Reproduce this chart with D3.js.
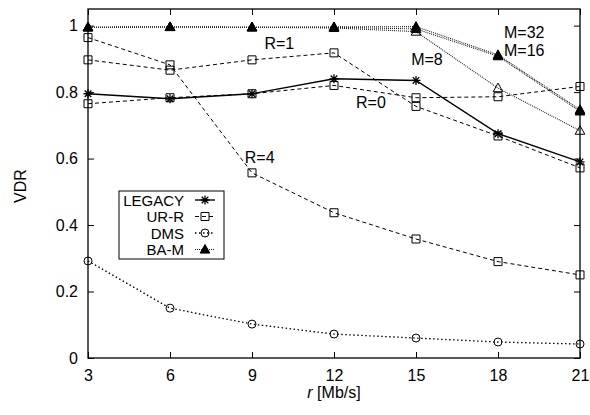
<!DOCTYPE html>
<html>
<head>
<meta charset="utf-8">
<script src="https://cdn.jsdelivr.net/npm/d3@7"></script>
<style>
  html, body { margin: 0; padding: 0; background: #fff; }
  svg { display: block; font-family: "Liberation Sans", Arial, Helvetica, sans-serif; }
</style>
</head>
<body>
<svg id="chart" width="590" height="415"></svg>
<script>
// ---- data ----
const xValues = [3, 6, 9, 12, 15, 18, 21];
const xTicks = [3, 6, 9, 12, 15, 18, 21];
const yTicks = [0, 0.2, 0.4, 0.6, 0.8, 1];
const yTickLabels = ["0", "0.2", "0.4", "0.6", "0.8", "1"];

const legacy = [0.795, 0.78, 0.795, 0.84, 0.835, 0.675, 0.59];
const urrR0  = [0.765, 0.783, 0.795, 0.82, 0.783, 0.786, 0.817];
const urrR1  = [0.897, 0.866, 0.897, 0.918, 0.757, 0.668, 0.572];
const urrR4  = [0.964, 0.882, 0.557, 0.437, 0.358, 0.29, 0.25];
const dms    = [0.292, 0.15, 0.102, 0.072, 0.06, 0.048, 0.042];
const bamM32 = [0.995, 0.996, 0.995, 0.996, 0.997, 0.912, 0.747];
const bamM16 = [0.995, 0.996, 0.995, 0.995, 0.99, 0.908, 0.742];
const bamM8  = [0.995, 0.996, 0.995, 0.993, 0.982, 0.812, 0.684];

const legendNames = ["LEGACY", "UR-R", "DMS", "BA-M"];
const annotations = [
  { text: "R=1", x: 10.0, y: 0.93, anchor: "middle" },
  { text: "R=0", x: 13.35, y: 0.752, anchor: "middle" },
  { text: "R=4", x: 9.28, y: 0.586, anchor: "middle" },
  { text: "M=8", x: 15.4, y: 0.882, anchor: "middle" },
  { text: "M=32", x: 18.22, y: 0.9613, anchor: "start" },
  { text: "M=16", x: 18.22, y: 0.9086, anchor: "start" }
];

// ---- layout ----
const svg = d3.select("#chart");
const L = 88, R = 580, T = 9, B = 358;
const x = d3.scaleLinear().domain([3, 21]).range([L, R]);
const y = d3.scaleLinear().domain([0, 1.05]).range([B, T]);

// frame
svg.append("rect").attr("x", L).attr("y", T).attr("width", R - L).attr("height", B - T)
  .attr("fill", "none").attr("stroke", "#000").attr("stroke-width", 1.3);

// axes (inward ticks, mirrored)
const fmtY = d => yTickLabels[yTicks.indexOf(d)];
const gx = svg.append("g").attr("transform", `translate(0,${B})`)
  .call(d3.axisBottom(x).tickValues(xTicks).tickSizeInner(-6).tickSizeOuter(0).tickPadding(12));
const gy = svg.append("g").attr("transform", `translate(${L},0)`)
  .call(d3.axisLeft(y).tickValues(yTicks).tickFormat(fmtY).tickSizeInner(-6).tickSizeOuter(0).tickPadding(10));
const gt = svg.append("g").attr("transform", `translate(0,${T})`)
  .call(d3.axisTop(x).tickValues(xTicks).tickSizeInner(-6).tickSizeOuter(0).tickFormat(""));
const gr = svg.append("g").attr("transform", `translate(${R},0)`)
  .call(d3.axisRight(y).tickValues(yTicks).tickSizeInner(-6).tickSizeOuter(0).tickFormat(""));
[gx, gy, gt, gr].forEach(g => {
  g.select(".domain").remove();
  g.selectAll("line").attr("stroke", "#000").attr("stroke-width", 1);
  g.selectAll("text").attr("fill", "#000").attr("font-size", 16)
    .attr("font-family", "'Liberation Sans', Arial, sans-serif");
});

// axis titles
svg.append("text").attr("transform", "translate(26,186) rotate(-90)")
  .attr("text-anchor", "middle").attr("font-size", 16).text("VDR");
const xt = svg.append("text").attr("x", x(12)).attr("y", 398)
  .attr("text-anchor", "middle").attr("font-size", 16);
xt.append("tspan").attr("font-style", "italic").text("r");
xt.append("tspan").text(" [Mb/s]");

// styles
const styles = {
  legacy: { dash: null, width: 1.4, color: "#000" },
  urr:    { dash: "4,3", width: 1, color: "#000" },
  dms:    { dash: "1.5,2.5", width: 1.3, color: "#000" },
  bam:    { dash: "1,1", width: 1.1, color: "#222" }
};

const line = d3.line().x((d, i) => x(xValues[i])).y(d => y(d));

function drawLine(vals, st) {
  svg.append("path").datum(vals).attr("d", line).attr("fill", "none")
    .attr("stroke", st.color).attr("stroke-width", st.width)
    .attr("stroke-dasharray", st.dash);
}

function markerPath(type, cx, cy) {
  const p = d3.path();
  if (type === "star") {
    const r = 4.5, q = 3.3;
    p.moveTo(cx - r, cy); p.lineTo(cx + r, cy);
    p.moveTo(cx, cy - r); p.lineTo(cx, cy + r);
    p.moveTo(cx - q, cy - q); p.lineTo(cx + q, cy + q);
    p.moveTo(cx - q, cy + q); p.lineTo(cx + q, cy - q);
  } else if (type === "square") {
    p.rect(cx - 4, cy - 4, 8, 8);
  } else if (type === "circle") {
    p.arc(cx, cy, 4, 0, Math.PI * 2);
  } else if (type === "tri") {
    p.moveTo(cx, cy - 5); p.lineTo(cx + 4.8, cy + 3.6); p.lineTo(cx - 4.8, cy + 3.6); p.closePath();
  }
  return p.toString();
}

function drawMarkers(vals, type, filled) {
  svg.append("g").selectAll("path").data(vals).join("path")
    .attr("d", (d, i) => markerPath(type, x(xValues[i]), y(d)))
    .attr("fill", filled ? "#000" : "none")
    .attr("stroke", "#000").attr("stroke-width", type === "star" ? 1.3 : 1);
}

// series
drawLine(dms, styles.dms); drawMarkers(dms, "circle", false);
[urrR0, urrR1, urrR4].forEach(s => { drawLine(s, styles.urr); drawMarkers(s, "square", false); });
drawLine(legacy, styles.legacy); drawMarkers(legacy, "star", false);
drawLine(bamM8, styles.bam); drawMarkers(bamM8, "tri", false);
drawLine(bamM16, styles.bam); drawMarkers(bamM16, "tri", true);
drawLine(bamM32, styles.bam); drawMarkers(bamM32, "tri", true);

// annotations
svg.append("g").selectAll("text").data(annotations).join("text")
  .attr("x", d => x(d.x)).attr("y", d => y(d.y))
  .attr("text-anchor", d => d.anchor).attr("font-size", 16).text(d => d.text);

// legend
const lg = svg.append("g");
lg.append("rect").attr("x", 119).attr("y", 191).attr("width", 105).attr("height", 68)
  .attr("fill", "#fff").attr("stroke", "#000").attr("stroke-width", 1);
const legendStyles = [
  [styles.legacy, "star", false],
  [styles.urr, "square", false],
  [styles.dms, "circle", false],
  [styles.bam, "tri", true]
];
legendNames.forEach((name, i) => {
  const cy = 200 + i * 16.5;
  lg.append("text").attr("x", 184).attr("y", cy + 5.5).attr("text-anchor", "end")
    .attr("font-size", 15).text(name);
  const [st, mk, filled] = legendStyles[i];
  lg.append("line").attr("x1", 195).attr("x2", 215).attr("y1", cy).attr("y2", cy)
    .attr("stroke", st.color).attr("stroke-width", st.width).attr("stroke-dasharray", st.dash);
  lg.append("path").attr("d", markerPath(mk, 205, cy))
    .attr("fill", filled ? "#000" : "none").attr("stroke", "#000")
    .attr("stroke-width", mk === "star" ? 1.3 : 1);
});
</script>
</body>
</html>
